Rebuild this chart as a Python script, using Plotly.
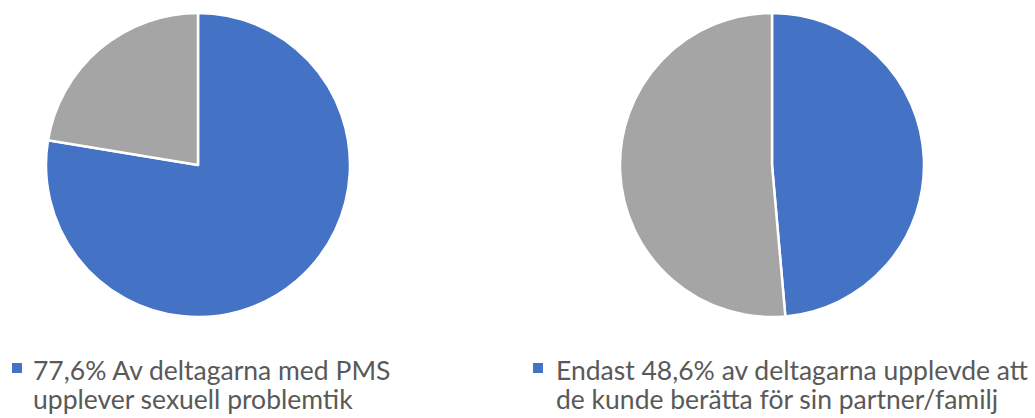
import plotly.graph_objects as go

W, H = 1035, 418

# Pie values (share in percent)
left_labels = ["Upplever sexuell problematik", "Övriga"]
left_values = [77.6, 22.4]
right_labels = ["Kunde berätta för partner/familj", "Övriga"]
right_values = [48.6, 51.4]
slice_colors = ["#4472C4", "#A5A5A5"]

# Legend texts under each pie
left_legend = ["77,6% Av deltagarna med PMS", "upplever sexuell problemtik"]
right_legend = ["Endast 48,6% av deltagarna upplevde att", "de kunde berätta för sin partner/familj"]

def px_x(v):
    return v / W

def px_y(v):
    return 1 - v / H

fig = go.Figure()

def add_pie(labels, values, x0, x1):
    fig.add_trace(go.Pie(
        labels=labels, values=values, sort=False, direction="clockwise",
        rotation=0, textinfo="none", hoverinfo="label+percent",
        marker=dict(colors=slice_colors, line=dict(color="white", width=2.5)),
        domain=dict(x=[px_x(x0), px_x(x1)], y=[px_y(317), px_y(13)]),
        showlegend=False,
    ))

add_pie(left_labels, left_values, 46, 350)
add_pie(right_labels, right_values, 620, 924)

font = dict(family="Lato", size=26.5, color="#595959")
shapes = []
annotations = []

def add_legend(lines, marker_x, text_x):
    shapes.append(dict(type="rect", xref="paper", yref="paper",
                       x0=px_x(marker_x), x1=px_x(marker_x + 10),
                       y0=px_y(373), y1=px_y(363),
                       fillcolor=slice_colors[0], line=dict(width=0)))
    for i, line in enumerate(lines):
        annotations.append(dict(text=line, xref="paper", yref="paper",
                                x=px_x(text_x), y=px_y(370 + i * 29),
                                xanchor="left", yanchor="middle",
                                showarrow=False, font=font))

add_legend(left_legend, 12, 31)
add_legend(right_legend, 533, 554)

fig.update_layout(
    width=W, height=H, margin=dict(l=0, r=0, t=0, b=0),
    paper_bgcolor="white", plot_bgcolor="white",
    shapes=shapes, annotations=annotations,
)

fig.write_html("out.html")
